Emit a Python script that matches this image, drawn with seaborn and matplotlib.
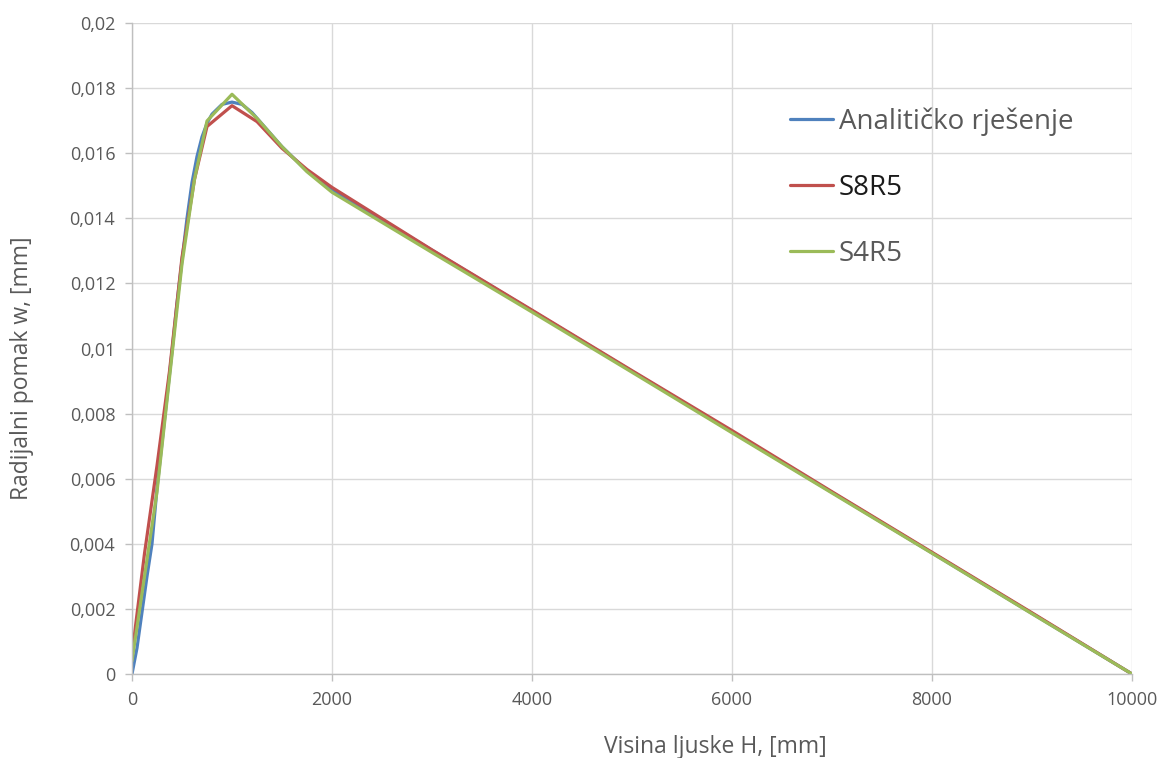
import numpy as np
import pandas as pd
import matplotlib.pyplot as plt
from matplotlib.ticker import FuncFormatter, MultipleLocator
import seaborn as sns

# Data
x_anal = [0, 50, 100, 150, 200, 250, 300, 350, 400, 450, 500, 550, 600, 650, 700, 750,
          800, 900, 1000, 1100, 1200, 1300, 1400, 1500, 1750, 2000, 3000, 4000, 5000,
          6000, 7000, 8000, 9000, 10000]
w_anal = [0.0, 0.0008, 0.0019, 0.0030, 0.0040, 0.0057, 0.0071, 0.0085, 0.0099, 0.0114,
          0.0127, 0.0140, 0.0151, 0.0159, 0.0165, 0.01692, 0.0172, 0.01750, 0.01757,
          0.01750, 0.01725, 0.01690, 0.01655, 0.01620, 0.01545, 0.01488, 0.01302,
          0.01116, 0.00930, 0.00744, 0.00558, 0.00372, 0.00186, 0.0]

x_s8 = [0, 125, 250, 375, 500, 625, 750, 1000, 1250, 1500, 1750, 2000, 3000, 4000,
        5000, 6000, 7000, 8000, 9000, 10000]
w_s8 = [0.0006, 0.0037, 0.0064, 0.0093, 0.0128, 0.0152, 0.01682, 0.01746, 0.01697,
        0.01615, 0.01550, 0.01495, 0.01303, 0.01118, 0.00932, 0.00748, 0.00560,
        0.00374, 0.00188, 0.0]

x_s4 = [0, 125, 250, 375, 500, 625, 750, 1000, 1250, 1500, 1750, 2000, 3000, 4000,
        5000, 6000, 7000, 8000, 9000, 10000]
w_s4 = [0.0004, 0.0030, 0.0056, 0.0091, 0.0126, 0.0152, 0.01699, 0.01781, 0.01707,
        0.01620, 0.01543, 0.01480, 0.01295, 0.01112, 0.00927, 0.00741, 0.00556,
        0.00371, 0.00185, 0.0]

series_names = ['Analitičko rješenje', 'S8R5', 'S4R5']
series_clrs = ['#4F81BD', '#C0504D', '#9BBB59']
label_clrs = ['#595959', '#1a1a1a', '#595959']

df = pd.concat([
    pd.DataFrame({'H': x_anal, 'w': w_anal, 'serija': series_names[0]}),
    pd.DataFrame({'H': x_s8, 'w': w_s8, 'serija': series_names[1]}),
    pd.DataFrame({'H': x_s4, 'w': w_s4, 'serija': series_names[2]}),
], ignore_index=True)

sns.set_theme(style='white')
plt.rcParams['font.family'] = ['Open Sans', 'DejaVu Sans']

fig = plt.figure(figsize=(11.62, 7.58), dpi=100)
ax = fig.add_axes([132 / 1162, 1 - 674 / 758, 1000 / 1162, 651 / 758])

sns.lineplot(data=df, x='H', y='w', hue='serija', hue_order=series_names,
             palette=series_clrs, sort=False, estimator=None, linewidth=2.3, ax=ax)

ax.set_xlim(0, 10000)
ax.set_ylim(0, 0.02)
ax.xaxis.set_major_locator(MultipleLocator(2000))
ax.yaxis.set_major_locator(MultipleLocator(0.002))
ax.yaxis.set_major_formatter(FuncFormatter(lambda v, p: f'{v:g}'.replace('.', ',')))

ax.grid(True, color='#D9D9D9', linewidth=1.0)
ax.set_axisbelow(True)
for side in ['top', 'right']:
    ax.spines[side].set_visible(False)
for side in ['left', 'bottom']:
    ax.spines[side].set_color('#BFBFBF')
    ax.spines[side].set_linewidth(1.0)

ax.tick_params(axis='both', which='major', labelsize=13, labelcolor='#595959',
               color='#BFBFBF', length=5, width=1, direction='out',
               bottom=True, left=True, pad=7)

ax.set_xlabel('Visina ljuske H, [mm]', fontsize=16.5, color='#595959')
ax.set_ylabel('Radijalni pomak w, [mm]', fontsize=16.5, color='#595959')
ax.xaxis.set_label_coords(0.583, -0.093)
ax.yaxis.set_label_coords(-0.098, 0.47)

leg = ax.legend(loc='upper left', bbox_to_anchor=(0.647, 0.888), frameon=False,
                fontsize=20, handlelength=1.55, handletextpad=0.2, labelspacing=1.37,
                borderaxespad=0)
for txt, c in zip(leg.get_texts(), label_clrs):
    txt.set_color(c)
for ln in leg.get_lines():
    ln.set_linewidth(2.3)

fig.savefig('out.png', dpi=100)
